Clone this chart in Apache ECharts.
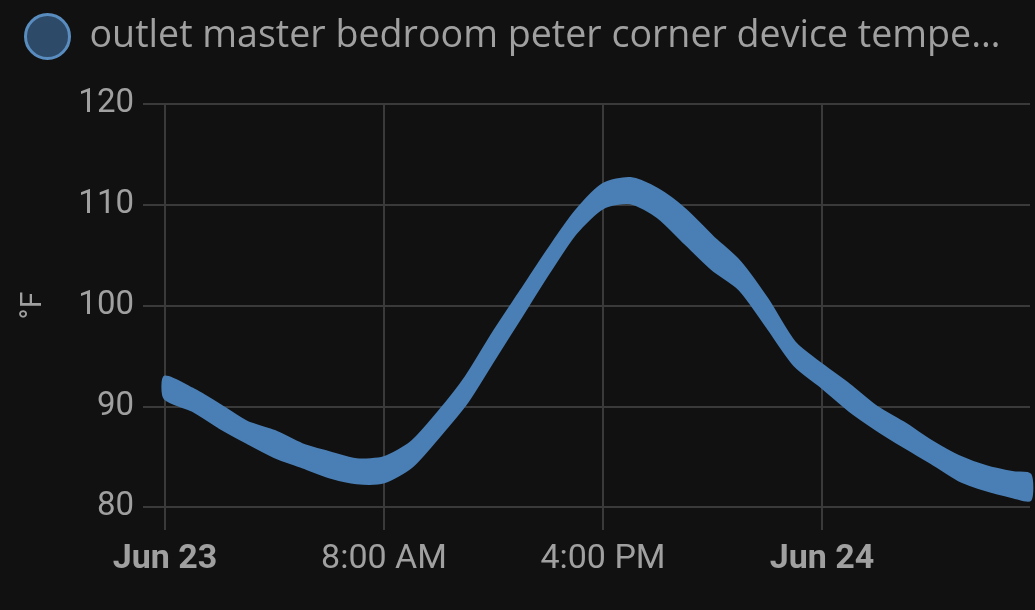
<!DOCTYPE html>
<html>
<head>
<meta charset="utf-8">
<script src="https://cdn.jsdelivr.net/npm/echarts@6/dist/echarts.min.js"></script>
<style>
html,body{margin:0;padding:0;background:#111111;}
#chart{width:1035px;height:610px;}
</style>
</head>
<body>
<div id="chart"></div>
<script>
// Series name
const seriesName = 'outlet master bedroom peter corner device temperature';
// Hours since Jun 23 00:00
const hours = [0,1,2,3,4,5,6,7,8,9,10,11,12,13,14,15,16,17,18,19,20,21,22,23,24,25,26,27,28,29,30,31,31.6];
// Upper edge of the noisy reading band (°F)
const upperF = [92.9,91.7,90.1,88.4,87.5,86.2,85.4,84.7,84.9,86.4,89.4,92.9,97.3,101.4,105.5,109.3,112.0,112.6,111.5,109.5,106.8,104.3,100.6,96.3,94.1,92.1,89.9,88.3,86.5,85.0,84.0,83.4,83.2];
// Lower edge of the noisy reading band (°F)
const lowerF = [90.8,89.6,87.9,86.4,85.0,84.0,83.0,82.4,82.5,84.0,87.0,90.3,94.6,98.9,103.2,107.2,109.7,110.2,108.8,106.2,103.6,101.6,97.9,94.1,91.9,89.6,87.7,86.0,84.4,82.7,81.7,81.0,80.7];
// X tick positions (hours) and labels
const xTickHours = [0, 8, 16, 24];
const xTickLabels = ['Jun 23', '8:00 AM', '4:00 PM', 'Jun 24'];
const xTickBold = [true, false, false, true];
// Y axis
const yMin = 80, yMax = 120, yStep = 10;

const H = 3600 * 1000;
const toMs = h => Math.round(h * H);
const xTickMs = xTickHours.map(toMs);
const bandData = hours.map((h, i) => [toMs(h), lowerF[i], upperF[i]]);

const lineColor = '#4a7fb5';
const gridColor = '#3a3a3a';
const textColor = '#a0a0a0';
const font = 'Roboto';

function renderBand(params, api) {
  if (params.dataIndex !== 0) return null;
  const n = bandData.length;
  const pts = [];
  for (let i = 0; i < n; i++) pts.push(api.coord([bandData[i][0], bandData[i][2]]));
  for (let i = n - 1; i >= 0; i--) pts.push(api.coord([bandData[i][0], bandData[i][1]]));
  return {
    type: 'polygon',
    shape: { points: pts, smooth: 0.25 },
    style: { fill: lineColor, stroke: lineColor, lineWidth: 3, lineJoin: 'round' }
  };
}

const chart = echarts.init(document.getElementById('chart'));
chart.setOption({
  backgroundColor: '#111111',
  animation: false,
  textStyle: { fontFamily: font },
  legend: {
    left: 19, top: 8,
    data: [seriesName],
    icon: 'circle',
    itemWidth: 74, itemHeight: 44,
    itemStyle: { color: '#2e4a69', borderColor: '#5a8dbf', borderWidth: 3 },
    textStyle: {
      color: textColor, fontSize: 37.6, fontFamily: 'Open Sans',
      width: 912, overflow: 'truncate', ellipsis: '…'
    }
  },
  grid: { left: 165, right: 5, top: 104, bottom: 103, outerBoundsMode: 'none', containLabel: false },
  xAxis: {
    type: 'value',
    min: 0, max: toMs(hours[hours.length - 1]),
    axisLine: { show: false },
    axisTick: { show: true, length: 23, lineStyle: { color: gridColor, width: 2 }, customValues: xTickMs },
    splitLine: { show: true, lineStyle: { color: gridColor, width: 2 } },
    axisLabel: {
      customValues: xTickMs,
      margin: 35,
      color: textColor,
      fontSize: 34,
      fontFamily: font,
      formatter: function (v) {
        const i = xTickMs.indexOf(v);
        if (i < 0) return '';
        return xTickBold[i] ? '{b|' + xTickLabels[i] + '}' : xTickLabels[i];
      },
      rich: { b: { fontWeight: 'bold', fontSize: 34, color: textColor, fontFamily: font } }
    }
  },
  yAxis: {
    type: 'value',
    min: yMin, max: yMax, interval: yStep,
    name: '°F',
    nameLocation: 'middle',
    nameRotate: 90,
    nameGap: 117,
    nameTextStyle: { color: textColor, fontSize: 30, fontFamily: font },
    axisLine: { show: false },
    axisTick: { show: true, length: 22, lineStyle: { color: gridColor, width: 2 } },
    splitLine: { show: true, lineStyle: { color: gridColor, width: 2 } },
    axisLabel: { margin: 31, color: textColor, fontSize: 33, fontFamily: font }
  },
  series: [
    {
      name: seriesName,
      type: 'custom',
      renderItem: renderBand,
      data: bandData,
      encode: { x: 0, y: [1, 2] },
      itemStyle: { color: lineColor },
      z: 3
    }
  ]
});
</script>
</body>
</html>
